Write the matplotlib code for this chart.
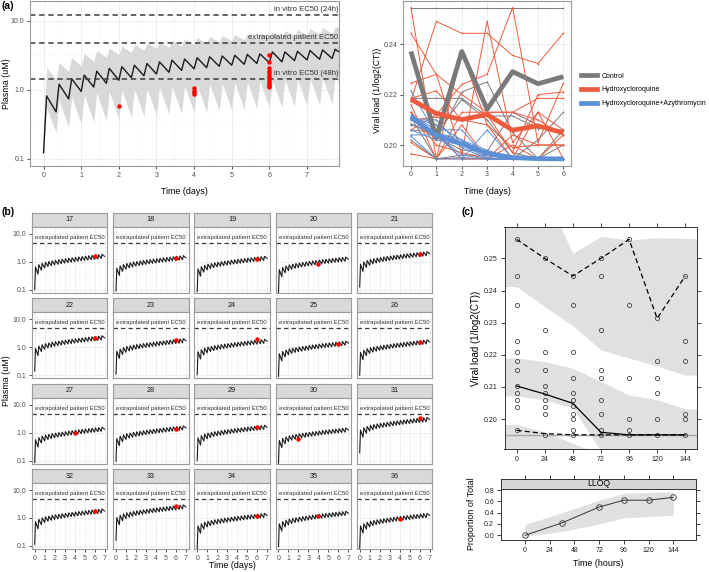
import numpy as np
import matplotlib
matplotlib.use('Agg')
import matplotlib.pyplot as plt
from matplotlib.ticker import FixedLocator, NullFormatter
from matplotlib.lines import Line2D

plt.rcParams['font.family'] = ['Liberation Sans', 'DejaVu Sans']

# ---------------- data ----------------
# (a) left: simulated plasma profiles, one dose every 8 h
doses_a = [0.0, 0.333, 0.667, 1.0, 1.333, 1.667, 2.0, 2.333, 2.667, 3.0, 3.333, 3.667,
           4.0, 4.333, 4.667, 5.0, 5.333, 5.667, 6.0, 6.333, 6.667, 7.0, 7.333, 7.667]
typ_start, typ_end = 0.123, 3.55
typ_peak = [0.82, 1.21, 1.45, 1.64, 1.87, 2.05, 2.17, 2.28, 2.41, 2.55, 2.70, 2.80,
            2.92, 3.02, 3.10, 3.18, 3.26, 3.33, 3.55, 3.55, 3.62, 3.72, 3.80, 3.88]
typ_trough = [0.48, 0.74, 0.95, 1.10, 1.25, 1.38, 1.50, 1.60, 1.70, 1.80, 1.92, 2.02,
              2.10, 2.20, 2.28, 2.35, 2.42, 2.48, 2.55, 2.66, 2.72, 2.78, 2.85]
hi_start, hi_end = 0.2, 7.9
hi_peak = [2.1, 2.47, 2.94, 3.36, 3.75, 4.05, 4.3, 4.55, 4.8, 5.0, 5.25, 5.5,
           5.75, 5.95, 6.15, 6.35, 6.55, 6.75, 6.95, 7.2, 7.45, 7.7, 7.95, 8.3]
hi_trough = [1.45, 1.85, 2.2, 2.6, 2.95, 3.25, 3.5, 3.75, 3.95, 4.15, 4.35, 4.55,
             4.75, 4.95, 5.1, 5.3, 5.45, 5.6, 5.8, 6.0, 6.2, 6.4, 6.6]
lo_start, lo_end = 0.1, 1.3
lo_peak = [0.55, 0.70, 0.80, 0.86, 0.91, 0.95, 0.99, 1.03, 1.06, 1.10, 1.13, 1.16,
           1.19, 1.22, 1.25, 1.28, 1.31, 1.34, 1.37, 1.40, 1.43, 1.46, 1.49, 1.52]
lo_trough = [0.24, 0.29, 0.32, 0.34, 0.36, 0.38, 0.40, 0.41, 0.43, 0.44, 0.46, 0.47,
             0.48, 0.50, 0.51, 0.52, 0.54, 0.55, 0.56, 0.58, 0.59, 0.61, 0.62]
obs_a_t = [2, 4, 4, 4, 4, 6, 6, 6, 6, 6, 6, 6, 6, 6, 6, 6, 6]
obs_a_v = [0.58, 1.07, 0.98, 0.92, 0.87, 3.25, 2.5, 2.05, 1.87, 1.73, 1.6, 1.47,
           1.38, 1.29, 1.2, 1.13, 1.09]
ec50_vals = [12.2, 4.8, 1.46]
ec50_labels = ['in vitro EC50 (24h)', 'extrapolated patient EC50', 'in vitro EC50 (48h)']

# (a) right: viral load per patient
days = [0, 1, 2, 3, 4, 5, 6]
control_lines = [
    [0.2545, 0.2545, 0.2545, 0.2545, 0.2545, 0.2545, 0.2545],
    [0.2185, 0.2185, 0.2185, 0.2115, 0.2115, 0.2065, 0.2060],
    [0.2130, 0.2020, 0.2210, 0.2250, 0.2050, 0.1945, 0.2000],
    [0.2085, 0.2030, 0.1980, 0.1975, 0.2130, 0.2080, 0.2040],
    [0.2020, 0.1945, 0.1960, 0.1960, 0.1945, 0.2020, 0.2130],
    [0.2060, 0.2050, 0.2180, 0.2100, 0.1970, 0.1945, 0.1945],
    [0.2110, 0.1945, 0.1950, 0.1945, 0.1945, 0.1945, 0.2060],
]
hcq_lines = [
    [0.2545, 0.1945, 0.1945, 0.1945, 0.1945, 0.1945, 0.1945],
    [0.2443, 0.2280, 0.2200, 0.2130, 0.2130, 0.2100, 0.2040],
    [0.2175, 0.2490, 0.2443, 0.2443, 0.2355, 0.2323, 0.2443],
    [0.2245, 0.2280, 0.1965, 0.2490, 0.2010, 0.2130, 0.1945],
    [0.2060, 0.2120, 0.2240, 0.2280, 0.2545, 0.2010, 0.2245],
    [0.1965, 0.1945, 0.2130, 0.2130, 0.2130, 0.2185, 0.2185],
    [0.2185, 0.2215, 0.2100, 0.2080, 0.1945, 0.1945, 0.1945],
    [0.2010, 0.1945, 0.2370, 0.2080, 0.1990, 0.2000, 0.2000],
    [0.2130, 0.2000, 0.1970, 0.1945, 0.2000, 0.1945, 0.2040],
    [0.2100, 0.2110, 0.2100, 0.2120, 0.1970, 0.2200, 0.2210],
    [0.2080, 0.2050, 0.1945, 0.1945, 0.2040, 0.2000, 0.2000],
    [0.2160, 0.1945, 0.2080, 0.1945, 0.1945, 0.2130, 0.2060],
]
azi_lines = [
    [0.2215, 0.2040, 0.1945, 0.1945, 0.1945, 0.1945, 0.1945],
    [0.2120, 0.2060, 0.2060, 0.1945, 0.1945, 0.1945, 0.1945],
    [0.2100, 0.2100, 0.1990, 0.1945, 0.1945, 0.1945, 0.1945],
    [0.2060, 0.2020, 0.2000, 0.1950, 0.1945, 0.1945, 0.1945],
    [0.2040, 0.2040, 0.1960, 0.1945, 0.1945, 0.1945, 0.1945],
    [0.2080, 0.2050, 0.2020, 0.1980, 0.1945, 0.1945, 0.1945],
    [0.2035, 0.1945, 0.1945, 0.2060, 0.1945, 0.1945, 0.1945],
    [0.2110, 0.2080, 0.2020, 0.1960, 0.1945, 0.1945, 0.1945],
]
control_mean = [0.2371, 0.2029, 0.2371, 0.2142, 0.2291, 0.2243, 0.2271]
hcq_mean = [0.2181, 0.2125, 0.2101, 0.2121, 0.2059, 0.2076, 0.2048]
azi_mean = [0.2111, 0.2039, 0.2005, 0.1967, 0.1950, 0.1946, 0.1945]

# (b) individual fits
patients = [17, 18, 19, 20, 21, 22, 23, 24, 25, 26, 27, 28, 29, 30, 31, 32, 33, 34, 35, 36]
pat_level = [1.0, 0.9, 0.85, 0.8, 1.25, 1.4, 1.1, 1.05, 0.9, 1.0,
             0.85, 0.95, 1.0, 0.8, 1.9, 1.15, 1.6, 0.8, 0.95, 0.8]
pat_obs_t = [6, 6, 6, 4, 6, 6, 6, 6, 6, 6, 4, 6, 6, 2, 6, 6, 6, 6, 4, 4]
pat_obs_v = [1.55, 1.36, 1.28, 0.85, 1.88, 2.18, 1.79, 1.89, 1.32, 1.56,
             0.95, 1.36, 1.65, 0.575, 3.23, 1.74, 2.64, 1.14, 1.14, 0.94]
doses_b = [0.0, 0.333, 0.667, 1.0, 1.333, 1.667, 2.0, 2.333, 2.667, 3.0, 3.333,
           3.667, 4.0, 4.333, 4.667, 5.0, 5.333, 5.667, 6.0, 6.333, 6.667]
base_start, base_end = 0.1, 1.55
base_peak = [0.65, 0.78, 0.88, 0.96, 1.02, 1.08, 1.13, 1.18, 1.23, 1.28, 1.33,
             1.38, 1.43, 1.48, 1.53, 1.58, 1.63, 1.68, 1.73, 1.78, 1.83]
base_trough = [0.36, 0.50, 0.60, 0.67, 0.72, 0.77, 0.81, 0.85, 0.89, 0.93,
               0.97, 1.00, 1.04, 1.08, 1.11, 1.15, 1.19, 1.22, 1.26, 1.30]

# (c) VPC
c_t = [0, 24, 48, 72, 96, 120, 144]
c_obs = [
    [0.2559, 0.2445, 0.2355, 0.2243, 0.2210, 0.2181, 0.2154, 0.2103, 0.2080, 0.2059, 0.2039, 0.1965],
    [0.2500, 0.2276, 0.2210, 0.2154, 0.2103, 0.2080, 0.2059, 0.2039, 0.2017, 0.1951],
    [0.2445, 0.2355, 0.2210, 0.2127, 0.2080, 0.2059, 0.2042, 0.2017, 0.2000, 0.1967, 0.1951],
    [0.2500, 0.2445, 0.2276, 0.2154, 0.2127, 0.2059, 0.2017, 0.1967, 0.1951],
    [0.2559, 0.2355, 0.2127, 0.2000, 0.1967, 0.1951],
    [0.2313, 0.2181, 0.2127, 0.2080, 0.2000, 0.1951],
    [0.2445, 0.2243, 0.2181, 0.2017, 0.2000, 0.1951],
]
c_hi = [0.2559, 0.2500, 0.2445, 0.2500, 0.2559, 0.2313, 0.2445]
c_med = [0.2103, 0.2078, 0.2049, 0.1959, 0.1951, 0.1951, 0.1951]
c_lo = [0.1965, 0.1955, 0.1951, 0.1951, 0.1951, 0.1951, 0.1951]
lloq_vl = 0.1951
band_t = [-12, 0, 24, 48, 72, 96, 120, 144, 160]
hi_band_top = [0.27, 0.27, 0.27, 0.2516, 0.2568, 0.2557, 0.2564, 0.2562, 0.2561]
hi_band_bot = [0.2412, 0.2412, 0.2350, 0.2290, 0.2215, 0.2190, 0.2165, 0.2137, 0.2137]
mid_band_top = [0.2190, 0.2190, 0.2179, 0.2158, 0.2117, 0.2075, 0.2060, 0.2032, 0.2030]
mid_band_bot = [0.2073, 0.2072, 0.2060, 0.2035, 0.1900, 0.1850, 0.1850, 0.1850, 0.1850]
lo_band_top = [0.1983, 0.1983, 0.1960, 0.1925, 0.1890, 0.1850, 0.1850, 0.1850, 0.1850]
lo_band_bot = [0.1850, 0.1850, 0.1850, 0.1850, 0.1850, 0.1850, 0.1850, 0.1850, 0.1850]
lloq_t = [0, 36, 72, 96, 120, 144]
lloq_obs = [0.0, 0.22, 0.5, 0.62, 0.62, 0.67]
lloq_lo = [-0.02, 0.07, 0.20, 0.31, 0.33, 0.36]
lloq_hi = [0.19, 0.40, 0.62, 0.74, 0.76, 0.77]

# ---------------- helpers ----------------
W, H = 709, 572
fig = plt.figure(figsize=(W / 100, H / 100), dpi=100)


def box(l, t, r, b):
    return [l / W, 1 - b / H, (r - l) / W, (b - t) / H]


def ftext(x, y, s, **kw):
    fig.text(x / W, 1 - y / H, s, **kw)


def pk_curve(doses, start, peaks, troughs, t_end, v_end, lag=0.08):
    t, v = [doses[0]], [start]
    for k, d in enumerate(doses):
        if k > 0:
            t.append(d)
            v.append(troughs[k - 1])
        t.append(d + lag)
        v.append(peaks[k])
    t.append(t_end)
    v.append(v_end)
    return np.array(t), np.array(v)


def gg_style(ax, size=5):
    ax.set_facecolor('white')
    for s in ax.spines.values():
        s.set_color('#9a9a9a')
        s.set_linewidth(0.8)
    ax.tick_params(which='major', length=2.5, width=0.6, color='#333333',
                   labelsize=size, labelcolor='#4d4d4d', pad=1.5)
    ax.tick_params(which='minor', length=0)
    ax.grid(which='major', color='#ebebeb', lw=0.6)
    ax.grid(which='minor', color='#f4f4f4', lw=0.35)
    ax.set_axisbelow(True)


def log_ticks(ax):
    ax.set_yscale('log')
    ax.yaxis.set_major_locator(FixedLocator([0.1, 1, 10]))
    ax.yaxis.set_minor_locator(FixedLocator([0.316, 3.16]))
    ax.yaxis.set_minor_formatter(NullFormatter())


def lattice_style(ax, size=5):
    for s in ax.spines.values():
        s.set_color('#333333')
        s.set_linewidth(0.7)
    ax.tick_params(direction='out', length=3, width=0.6, colors='#222222',
                   labelsize=size, top=True, right=True, labeltop=False,
                   labelright=False, pad=2)


# ---------------- (a) left ----------------
ax = fig.add_axes(box(30, 1, 339, 166))
gg_style(ax)
log_ticks(ax)
ax.set_xlim(-0.36, 7.85)
ax.set_ylim(0.079, 19.4)
ax.set_xticks(range(8))
ax.xaxis.set_minor_locator(FixedLocator([0.5, 1.5, 2.5, 3.5, 4.5, 5.5, 6.5, 7.5]))
ax.set_yticklabels(['0.1', '1.0', '10.0'])
t_hi, v_hi = pk_curve(doses_a, hi_start, hi_peak, hi_trough, 7.85, hi_end)
t_lo, v_lo = pk_curve(doses_a, lo_start, lo_peak, lo_trough, 7.85, lo_end)
ax.fill_between(t_hi, v_lo, v_hi, color='#d9d9d9', lw=0)
t_typ, v_typ = pk_curve(doses_a, typ_start, typ_peak, typ_trough, 7.85, typ_end)
ax.plot(t_typ, v_typ, color='#1a1a1a', lw=1.0)
for y, lab in zip(ec50_vals, ec50_labels):
    ax.axhline(y, color='#3a3a3a', lw=1.1, ls=(0, (3.5, 2.5)))
    ax.text(7.83, y * 1.06, lab, ha='right', va='bottom', fontsize=5.6, color='#333333')
ax.plot(obs_a_t, obs_a_v, 'o', color='red', ms=3.2, mew=0)
ftext(7, 84, 'Plasma (uM)', rotation=90, ha='center', va='center', fontsize=6.4)
ftext(184.5, 192, 'Time (days)', ha='center', va='center', fontsize=6.4)
ftext(2, 6, '(a)', ha='left', va='center', fontsize=7.5, fontweight='bold')

# ---------------- (a) right ----------------
ax = fig.add_axes(box(403.3, 1, 571, 165.7))
gg_style(ax)
ax.set_xlim(-0.3, 6.3)
ax.set_ylim(0.1918, 0.2571)
ax.set_xticks(days)
ax.xaxis.set_minor_locator(FixedLocator([0.5, 1.5, 2.5, 3.5, 4.5, 5.5]))
ax.set_yticks([0.20, 0.22, 0.24])
ax.set_yticklabels(['0.20', '0.22', '0.24'])
ax.yaxis.set_minor_locator(FixedLocator([0.19, 0.21, 0.23, 0.25]))
c_grey, c_red, c_blue = '#7a7a7a', '#ee5a3e', '#5b8fd6'
for group, col in [(control_lines, c_grey), (hcq_lines, c_red), (azi_lines, c_blue)]:
    for vals in group:
        ax.plot(days, vals, color=col, lw=0.7, marker='o', ms=1.2, mew=0)
ax.plot(days, control_mean, color=c_grey, lw=3.4, solid_capstyle='butt')
ax.plot(days, hcq_mean, color=c_red, lw=3.4, solid_capstyle='butt')
ax.plot(days, azi_mean, color=c_blue, lw=3.4, solid_capstyle='butt')
ftext(377.5, 90, 'Viral load (1/log2(CT))', rotation=90, ha='center', va='center', fontsize=6.2)
ftext(487, 192, 'Time (days)', ha='center', va='center', fontsize=6.4)
handles = [Line2D([], [], color=c, lw=3.4) for c in (c_grey, c_red, c_blue)]
fig.legend(handles, ['Control', 'Hydroxycloroquine', 'Hydroxycloroquine+Azythromycin'],
           loc='center left', bbox_to_anchor=(581 / W, 1 - 90 / H), frameon=False,
           fontsize=5, handlelength=2.3, handletextpad=0.6, labelspacing=1.0,
           borderpad=0, borderaxespad=0)

# ---------------- (b) facets ----------------
col_left = [31.7, 113, 194.2, 275.5, 356.7]
row_top = [212.7, 298.2, 383.6, 469.0]
fw, sh, ph = 75.8, 14, 66
for i, pid in enumerate(patients):
    r, c = divmod(i, 5)
    l, t = col_left[c], row_top[r]
    sax = fig.add_axes(box(l, t, l + fw, t + sh))
    sax.set_facecolor('#d9d9d9')
    sax.set_xticks([])
    sax.set_yticks([])
    for s in sax.spines.values():
        s.set_color('#9a9a9a')
        s.set_linewidth(0.8)
    sax.text(0.5, 0.5, str(pid), ha='center', va='center', fontsize=5.2,
             color='#1a1a1a', transform=sax.transAxes)
    ax = fig.add_axes(box(l, t + sh, l + fw, t + sh + ph))
    gg_style(ax)
    log_ticks(ax)
    ax.set_xlim(-0.3, 7.3)
    ax.set_ylim(0.078, 17.8)
    ax.set_xticks(range(8))
    ax.xaxis.set_minor_locator(FixedLocator([0.5, 1.5, 2.5, 3.5, 4.5, 5.5, 6.5]))
    tb, vb = pk_curve(doses_b, base_start, base_peak, base_trough, 7.0, base_end)
    ax.plot(tb, vb * pat_level[i], color='#1a1a1a', lw=0.8)
    ax.axhline(4.8, color='#3a3a3a', lw=0.9, ls=(0, (3.5, 2.5)))
    ax.text(3.5, 4.8 * 1.25, 'extrapolated patient EC50', ha='center', va='bottom',
            fontsize=4.3, color='#333333')
    ax.plot([pat_obs_t[i]], [pat_obs_v[i]], 'o', color='red', ms=3.2, mew=0)
    if c == 0:
        ax.set_yticklabels(['0.1', '1.0', '10.0'])
    else:
        ax.tick_params(axis='y', labelleft=False, length=0)
    if r < 3:
        ax.tick_params(axis='x', labelbottom=False, length=0)
ftext(7, 381, 'Plasma (uM)', rotation=90, ha='center', va='center', fontsize=6.4)
ftext(232, 565, 'Time (days)', ha='center', va='center', fontsize=6.4)
ftext(2, 212, '(b)', ha='left', va='center', fontsize=7.5, fontweight='bold')

# ---------------- (c) VPC ----------------
ax = fig.add_axes(box(504.5, 226.7, 696.5, 449))
lattice_style(ax)
ax.set_xlim(-10.4, 153.6)
ax.set_ylim(0.1907, 0.25985)
for bot, top in [(lo_band_bot, lo_band_top), (mid_band_bot, mid_band_top),
                 (hi_band_bot, hi_band_top)]:
    ax.fill_between(band_t, bot, top, color='#e0e0e0', lw=0)
ax.axhline(lloq_vl, color='#a6a6a6', lw=1.0)
for t, vals in zip(c_t, c_obs):
    ax.plot([t] * len(vals), vals, 'o', mfc='none', mec='#444444', ms=3.0, mew=0.6)
ax.plot(c_t, c_hi, color='black', lw=0.9, ls=(0, (4, 2.5)))
ax.plot(c_t, c_med, color='black', lw=0.9)
ax.plot(c_t, c_lo, color='black', lw=0.9, ls=(0, (4, 2.5)))
ax.set_xticks(c_t)
ax.set_yticks([0.20, 0.21, 0.22, 0.23, 0.24, 0.25])
ax.set_yticklabels(['0.20', '0.21', '0.22', '0.23', '0.24', '0.25'])
ftext(476, 338, 'Viral load (1/log2(CT))', rotation=90, ha='center', va='center', fontsize=7)
ftext(462, 212, '(c)', ha='left', va='center', fontsize=7.5, fontweight='bold')

# LLOQ panel
sax = fig.add_axes(box(501, 479, 696.3, 489))
sax.set_facecolor('#d6d6d6')
lattice_style(sax)
sax.set_xlim(-23.3, 166.3)
sax.set_xticks(c_t)
sax.tick_params(bottom=False, labelbottom=False, left=False, labelleft=False, right=False)
sax.set_yticks([])
sax.text(0.5, 0.5, 'LLOQ', ha='center', va='center', fontsize=6.2,
         transform=sax.transAxes)
ax = fig.add_axes(box(501, 489, 696.3, 540))
lattice_style(ax)
ax.tick_params(top=False)
ax.set_xlim(-23.3, 166.3)
ax.set_ylim(-0.083, 0.818)
ax.fill_between(lloq_t, lloq_lo, lloq_hi, color='#e0e0e0', lw=0)
ax.plot(lloq_t, lloq_obs, color='#333333', lw=0.7, marker='o', mfc='none',
        mec='#333333', ms=4, mew=0.6)
ax.set_xticks(c_t)
ax.set_yticks([0.0, 0.2, 0.4, 0.6, 0.8])
ax.set_yticklabels(['0.0', '0.2', '0.4', '0.6', '0.8'])
ftext(472, 514, 'Proportion of Total', rotation=90, ha='center', va='center', fontsize=6.4)
ftext(598.5, 564, 'Time (hours)', ha='center', va='center', fontsize=6.4)

fig.savefig('out.png', dpi=100)
